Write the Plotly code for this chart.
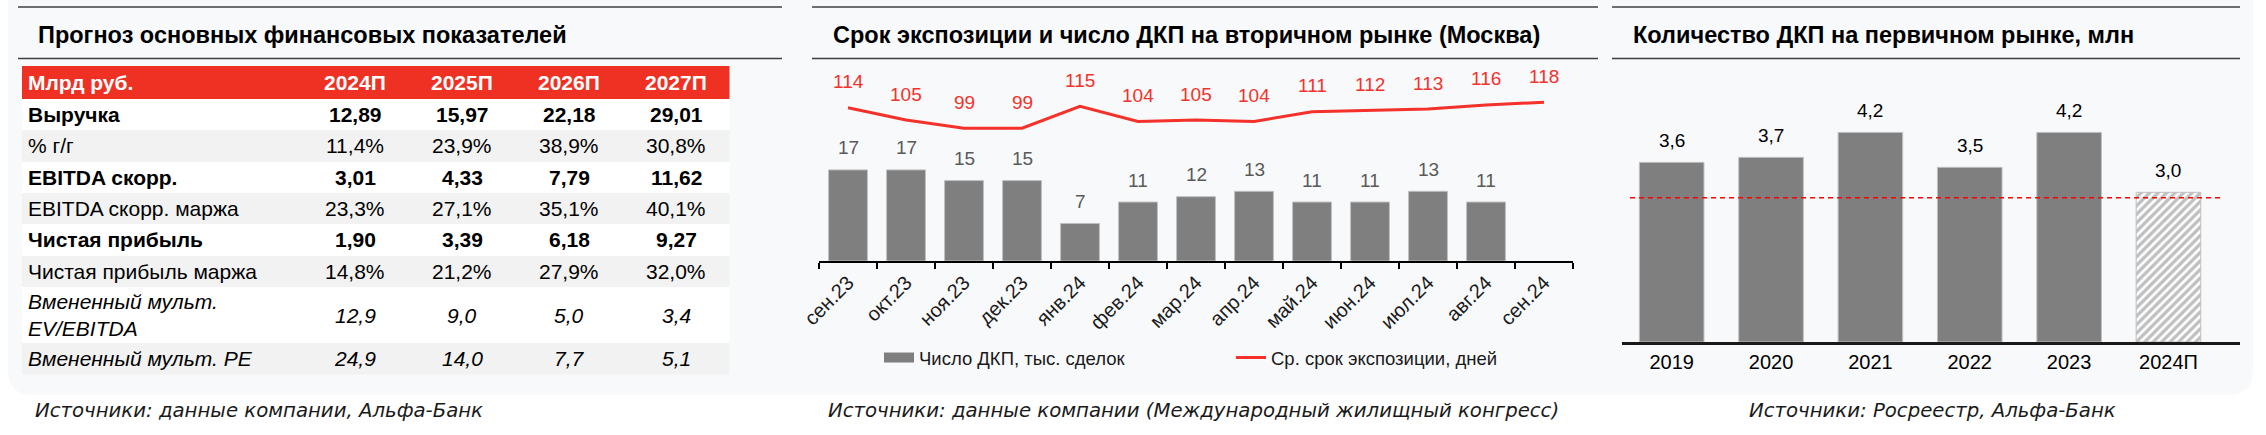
import plotly.graph_objects as go

W, H = 2266, 435

# ---------------- data: forecast table ----------------
table_corner_label = "Млрд руб."
forecast_years = ["2024П", "2025П", "2026П", "2027П"]
row_labels = ["Выручка", "% г/г", "EBITDA скорр.", "EBITDA скорр. маржа",
              "Чистая прибыль", "Чистая прибыль маржа",
              "Вмененный мульт.<br>EV/EBITDA", "Вмененный мульт. PE"]
revenue = [12.89, 15.97, 22.18, 29.01]
revenue_growth_pct = [11.4, 23.9, 38.9, 30.8]
ebitda_adj = [3.01, 4.33, 7.79, 11.62]
ebitda_adj_margin_pct = [23.3, 27.1, 35.1, 40.1]
net_income = [1.90, 3.39, 6.18, 9.27]
net_margin_pct = [14.8, 21.2, 27.9, 32.0]
ev_ebitda = [12.9, 9.0, 5.0, 3.4]
pe_ratio = [24.9, 14.0, 7.7, 5.1]

# ---------------- data: secondary market (Moscow) ----------------
months = ["сен.23", "окт.23", "ноя.23", "дек.23", "янв.24", "фев.24", "мар.24",
          "апр.24", "май.24", "июн.24", "июл.24", "авг.24", "сен.24"]
deals_thousand = [17, 17, 15, 15, 7, 11, 12, 13, 11, 11, 13, 11, None]
exposure_days = [114, 105, 99, 99, 115, 104, 105, 104, 111, 112, 113, 116, 118]

# ---------------- data: primary market ----------------
years = ["2019", "2020", "2021", "2022", "2023", "2024П"]
primary_deals_mln = [3.6, 3.7, 4.2, 3.5, 4.2, 3.0]
is_forecast = [False, False, False, False, False, True]
reference_level = 2.89

# ---------------- style / layout constants ----------------
col_widths = [279.5, 107, 107, 107, 107]
row_heights = [33, 31.3, 31.3, 31.3, 31.3, 31.3, 31.3, 56.5, 31.3]   # header + 8 rows
row_fill_codes = [0, 1, 2, 1, 2, 1, 2, 1, 2]                       # 0 header red, 1 white, 2 grey
TABLE_LEFT, TABLE_TOP = 22, 66

def X(px):
    return px / W

def Y(py):
    return 1 - py / H

def fmt(v, d):
    return f"{v:.{d}f}".replace(".", ",")

def cumsum(a):
    out = [0]
    for v in a:
        out.append(out[-1] + v)
    return out

RED = "#ef3124"
LINE_RED = "#f4312a"
BAR = "#7f7f7f"
PANEL = "#f8f9fb"
FONT = "Liberation Sans"
SRC_FONT = "DejaVu Sans"

fig = go.Figure()
annotations = []

# ---------------- table (drawn on its own axes) ----------------
rows = [
    (row_labels[0], [fmt(v, 2) for v in revenue], "b"),
    (row_labels[1], [fmt(v, 1) + "%" for v in revenue_growth_pct], ""),
    (row_labels[2], [fmt(v, 2) for v in ebitda_adj], "b"),
    (row_labels[3], [fmt(v, 1) + "%" for v in ebitda_adj_margin_pct], ""),
    (row_labels[4], [fmt(v, 2) for v in net_income], "b"),
    (row_labels[5], [fmt(v, 1) + "%" for v in net_margin_pct], ""),
    (row_labels[6], [fmt(v, 1) for v in ev_ebitda], "i"),
    (row_labels[7], [fmt(v, 1) for v in pe_ratio], "i"),
]

def tag(s, t):
    return f"<{t}>{s}</{t}>" if t else s

x_edges = cumsum(col_widths)
y_edges = cumsum(row_heights)
table_w, table_h = x_edges[-1], y_edges[-1]
z = [[c] * len(col_widths) for c in row_fill_codes]

fig.add_trace(go.Heatmap(
    x=x_edges, y=y_edges, z=z, xaxis="x4", yaxis="y4",
    zmin=-0.5, zmax=2.5, showscale=False, hoverinfo="skip",
    colorscale=[[0, RED], [1 / 3, RED], [1 / 3, "#ffffff"], [2 / 3, "#ffffff"],
                [2 / 3, "#f2f2f2"], [1, "#f2f2f2"]],
))

col_centers = [(x_edges[i] + x_edges[i + 1]) / 2 for i in range(len(col_widths))]
row_centers = [(y_edges[i] + y_edges[i + 1]) / 2 for i in range(len(row_heights))]

header_cells = [table_corner_label] + forecast_years
for j, txt in enumerate(header_cells):
    annotations.append(dict(
        x=x_edges[0] if j == 0 else col_centers[j], y=row_centers[0], xref="x4", yref="y4",
        text="<b>" + txt + "</b>", showarrow=False,
        xanchor="left" if j == 0 else "center", xshift=4 if j == 0 else 0, yanchor="middle",
        font=dict(size=21, color="#ffffff", family=FONT)))
for i, (lbl, vals, t) in enumerate(rows):
    yc = row_centers[i + 1]
    annotations.append(dict(
        x=x_edges[0], y=yc, xref="x4", yref="y4", text=tag(lbl, t), showarrow=False,
        xanchor="left", xshift=4, yanchor="middle", align="left",
        font=dict(size=21, color="#000000", family=FONT)))
    for j, v in enumerate(vals):
        annotations.append(dict(
            x=col_centers[j + 1], y=yc, xref="x4", yref="y4", text=tag(v, t), showarrow=False,
            xanchor="center", yanchor="middle",
            font=dict(size=21, color="#000000", family=FONT)))

# ---------------- middle chart ----------------
fig.add_trace(go.Bar(
    x=months, y=deals_thousand, xaxis="x", yaxis="y",
    width=0.67, showlegend=False,
    marker=dict(color=BAR, line=dict(color="#bfbfbf", width=1)),
    name="Число ДКП, тыс. сделок",
))
# legend swatch for the bars (wide grey block, as in the original legend)
fig.add_trace(go.Scatter(
    x=[None], y=[None], xaxis="x", yaxis="y", mode="lines",
    line=dict(color=BAR, width=12), name="Число ДКП, тыс. сделок", hoverinfo="skip",
))
fig.add_trace(go.Scatter(
    x=months, y=exposure_days, xaxis="x", yaxis="y2",
    mode="lines", line=dict(color=LINE_RED, width=3),
    name="Ср. срок экспозиции, дней",
))

# ---------------- right chart ----------------
fig.add_trace(go.Bar(
    x=years, y=primary_deals_mln, xaxis="x3", yaxis="y3",
    width=0.65, showlegend=False,
    marker=dict(
        color=BAR,
        line=dict(color="#bfbfbf", width=1),
        pattern=dict(shape=["/" if f else "" for f in is_forecast],
                     fgcolor=BAR, bgcolor="#ffffff", size=6, solidity=0.55),
    ),
))

for i, v in enumerate(deals_thousand):
    if v is not None:
        annotations.append(dict(x=i, y=v, xref="x", yref="y", text=str(v), showarrow=False,
                                yshift=22, font=dict(size=19, color="#595959", family=FONT)))
for i, v in enumerate(exposure_days):
    annotations.append(dict(x=i, y=v, xref="x", yref="y2", text=str(v), showarrow=False,
                            yshift=26, font=dict(size=19, color=LINE_RED, family=FONT)))
for i, v in enumerate(primary_deals_mln):
    annotations.append(dict(x=i, y=v, xref="x3", yref="y3", text=fmt(v, 1), showarrow=False,
                            yshift=21.5, font=dict(size=19, color="#000000", family=FONT)))

# titles
titles = [
    (36, "Прогноз основных финансовых показателей"),
    (831, "Срок экспозиции и число ДКП на вторичном рынке (Москва)"),
    (1631, "Количество ДКП на первичном рынке, млн"),
]
for xpx, t in titles:
    annotations.append(dict(x=X(xpx), y=Y(35), xref="paper", yref="paper", text="<b>" + t + "</b>",
                            showarrow=False, xanchor="left", yanchor="middle",
                            font=dict(size=23.5, color="#000000", family=FONT)))

# sources
sources = [
    (X(33), "left", "Источники: данные компании, Альфа-Банк"),
    (X(1193), "center", "Источники: данные компании (Международный жилищный конгресс)"),
    (X(1932), "center", "Источники: Росреестр, Альфа-Банк"),
]
for xp, anc, t in sources:
    annotations.append(dict(x=xp, y=Y(410), xref="paper", yref="paper", text="<i>" + t + "</i>",
                            showarrow=False, xanchor=anc, yanchor="middle",
                            font=dict(size=19.7, color="#1a1a1a", family=SRC_FONT)))

# shapes
r = 25
x0, x1, yt, yb = X(8), X(2253), Y(-10), Y(395)
rx, ry = r / W, r / H
panel_path = (f"M{x0},{yt} L{x1},{yt} L{x1},{yb + ry} Q{x1},{yb} {x1 - rx},{yb} "
              f"L{x0 + rx},{yb} Q{x0},{yb} {x0},{yb + ry} Z")
shapes = [dict(type="path", path=panel_path, xref="paper", yref="paper",
               fillcolor=PANEL, line=dict(width=0), layer="below")]
for a, b in [(18, 782), (812, 1598), (1612, 2240)]:
    for ypx in (7, 58.5):
        shapes.append(dict(type="line", xref="paper", yref="paper", x0=X(a), x1=X(b),
                           y0=Y(ypx), y1=Y(ypx), line=dict(color="#3f3f3f", width=1.5)))
shapes.append(dict(type="line", xref="x3 domain", yref="y3", x0=0.013, x1=0.969,
                   y0=reference_level, y1=reference_level,
                   line=dict(color="#ff0000", width=1.5, dash="5px,4px")))

hidden = dict(visible=False, showgrid=False, zeroline=False, fixedrange=True, automargin=False)

fig.update_layout(
    width=W, height=H,
    margin=dict(l=0, r=0, t=0, b=0, autoexpand=False),
    paper_bgcolor="#ffffff",
    plot_bgcolor="rgba(0,0,0,0)",
    font=dict(family=FONT, color="#000000"),
    showlegend=True,
    legend=dict(orientation="h", x=X(879), y=Y(358), xanchor="left", yanchor="middle",
                font=dict(size=18.5, color="#1a1a1a", family=FONT),
                bgcolor="rgba(0,0,0,0)", entrywidth=307, entrywidthmode="pixels"),
    xaxis=dict(domain=[X(819), X(1573)], anchor="y", type="category", range=[-0.5, 12.5],
               showline=True, linecolor="#000000", linewidth=2, automargin=False,
               ticks="outside", tickson="boundaries", ticklen=6, tickcolor="#000000", tickwidth=1.5,
               tickangle=-45, tickfont=dict(size=20, color="#1a1a1a", family=FONT),
               showgrid=False, zeroline=False, fixedrange=True),
    yaxis=dict(domain=[Y(261), Y(100.2)], anchor="x", range=[0, 30], **hidden),
    yaxis2=dict(overlaying="y", anchor="x", range=[2.0, 119.5], **hidden),
    xaxis3=dict(domain=[X(1622), X(2240)], anchor="y3", type="category", range=[-0.5, 5.72],
                showline=True, linecolor="#1a1a1a", linewidth=2.5, ticks="", automargin=False,
                tickfont=dict(size=20, color="#000000", family=FONT),
                showgrid=False, zeroline=False, fixedrange=True),
    yaxis3=dict(domain=[Y(342), Y(92.5)], anchor="x3", range=[0, 5], **hidden),
    xaxis4=dict(domain=[X(TABLE_LEFT), X(TABLE_LEFT + table_w)], anchor="y4",
                range=[0, table_w], **hidden),
    yaxis4=dict(domain=[Y(TABLE_TOP + table_h), Y(TABLE_TOP)], anchor="x4",
                range=[table_h, 0], **hidden),
    annotations=annotations,
    shapes=shapes,
)

fig.write_html("out.html",
               config={"displayModeBar": False},
               post_script="document.body.style.margin='0';document.body.style.overflow='hidden';")
